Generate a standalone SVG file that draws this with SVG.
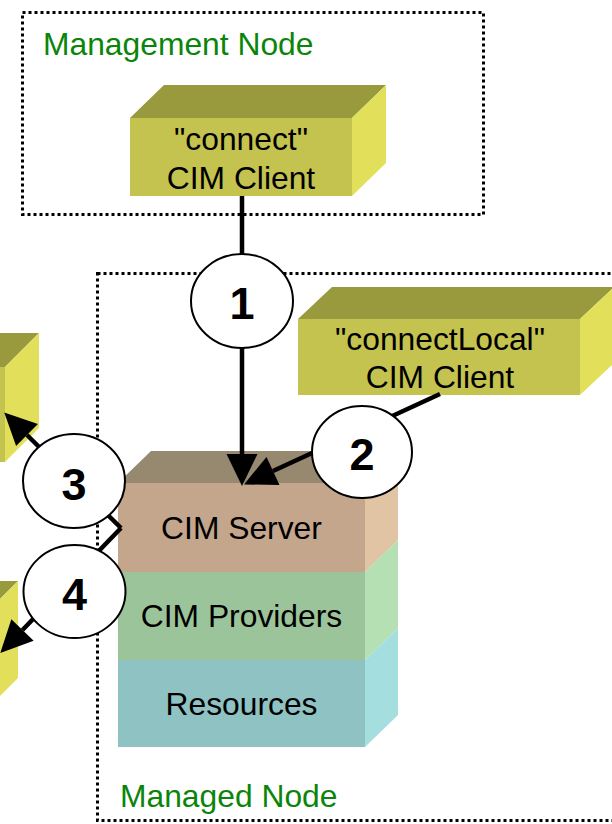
<svg xmlns="http://www.w3.org/2000/svg" width="612" height="824" viewBox="0 0 612 824">
  <style>
    .container { fill: none; stroke: #000; stroke-width: 3; stroke-dasharray: 3 3; }
    .container-label { font-family: "Liberation Sans", Arial, sans-serif; font-size: 31.8px; fill: #0A850A; }
    .label { font-family: "Liberation Sans", Arial, sans-serif; font-size: 31.8px; fill: #000; text-anchor: middle; }
    .client-front { fill: #C5C34F; }
    .client-top { fill: #999A3D; }
    .client-side { fill: #E2E05A; }
    .server-top { fill: #978870; }
    .server-front { fill: #C4A68D; }
    .server-side { fill: #E0C4A4; }
    .prov-front { fill: #9CC49A; }
    .prov-side { fill: #B5E0B3; }
    .res-front { fill: #8FC2C2; }
    .res-side { fill: #A5DEDE; }
    .link { fill: none; stroke: #000; stroke-width: 4.5; }
    .step { fill: #fff; stroke: #000; stroke-width: 2; }
    .step-num { font-family: "Liberation Sans", Arial, sans-serif; font-size: 45px; font-weight: bold; fill: #000; text-anchor: middle; }
  </style>
  <defs>
    <marker id="arrow" markerUnits="userSpaceOnUse" markerWidth="34" markerHeight="32" refX="0" refY="15.5" orient="auto" overflow="visible">
      <path d="M0,0 L32,15.5 L0,31 Z" fill="#000"/>
    </marker>
  </defs>

  <rect width="612" height="824" fill="#fff"/>

  <!-- Management node container -->
  <g id="management-node">
    <rect class="container" x="22.5" y="12.5" width="461" height="202"/>
    <text class="container-label" x="43" y="55">Management Node</text>
  </g>

  <!-- Managed node container -->
  <g id="managed-node">
    <rect class="container" x="97.5" y="273.5" width="540" height="547"/>
    <text class="container-label" x="120" y="807">Managed Node</text>
  </g>

  <!-- "connect" CIM Client -->
  <g id="connect-client">
    <polygon class="client-top" points="130,118 164,85 386,85 352,118"/>
    <polygon class="client-side" points="352,118 386,85 386,163 352,196"/>
    <rect class="client-front" x="130" y="118" width="222" height="78"/>
    <text class="label" x="241" y="150">"connect"</text>
    <text class="label" x="241" y="189">CIM Client</text>
  </g>

  <!-- "connectLocal" CIM Client -->
  <g id="connectlocal-client">
    <polygon class="client-top" points="298,319 332,287 614,287 580,319"/>
    <polygon class="client-side" points="580,319 614,287 614,363 580,395"/>
    <rect class="client-front" x="298" y="319" width="282" height="76"/>
    <text class="label" x="440" y="350">"connectLocal"</text>
    <text class="label" x="440" y="388">CIM Client</text>
  </g>

  <!-- Remote clients at the left edge -->
  <g id="remote-client-a">
    <polygon class="client-top" points="-200,367 -166,333 39,333 5,367"/>
    <polygon class="client-side" points="5,367 39,333 39,428 5,462"/>
    <rect class="client-front" x="-200" y="367" width="205" height="95"/>
  </g>
  <g id="remote-client-b">
    <polygon class="client-top" points="-200,615 -166,581 18,581 -16,615"/>
    <polygon class="client-side" points="-16,615 18,581 18,678 -16,712"/>
  </g>

  <!-- CIM server stack -->
  <g id="cim-server">
    <polygon class="server-top" points="118,483 151,451 398,451 365,483"/>
    <polygon class="server-side" points="365,483 398,451 398,540 365,572"/>
    <rect class="server-front" x="118" y="483" width="247" height="89"/>
    <text class="label" x="241.5" y="539">CIM Server</text>
  </g>
  <g id="cim-providers">
    <polygon class="prov-side" points="365,572 398,540 398,628 365,660"/>
    <rect class="prov-front" x="118" y="572" width="247" height="88"/>
    <text class="label" x="241.5" y="627">CIM Providers</text>
  </g>
  <g id="resources">
    <polygon class="res-side" points="365,660 398,628 398,715 365,747"/>
    <rect class="res-front" x="118" y="660" width="247" height="87"/>
    <text class="label" x="241.5" y="715">Resources</text>
  </g>

  <!-- Connectors and numbered steps -->
  <g id="connectors">
    <line class="link" x1="242" y1="196" x2="242" y2="454" marker-end="url(#arrow)"/>
    <line class="link" x1="440" y1="394" x2="273" y2="471" marker-end="url(#arrow)"/>
    <line class="link" x1="121" y1="528" x2="27" y2="435" marker-end="url(#arrow)"/>
    <line class="link" x1="121" y1="528" x2="22.5" y2="630" marker-end="url(#arrow)"/>

    <g id="step-1">
      <ellipse class="step" cx="242" cy="301" rx="51" ry="47"/>
      <text class="step-num" x="242" y="319">1</text>
    </g>
    <g id="step-2">
      <ellipse class="step" cx="362" cy="452" rx="50" ry="46"/>
      <text class="step-num" x="362" y="470">2</text>
    </g>
    <g id="step-3">
      <ellipse class="step" cx="74" cy="481" rx="51" ry="47"/>
      <text class="step-num" x="74" y="500">3</text>
    </g>
    <g id="step-4">
      <ellipse class="step" cx="74.5" cy="591.5" rx="51" ry="46.5"/>
      <text class="step-num" x="74.5" y="610">4</text>
    </g>
  </g>
</svg>
